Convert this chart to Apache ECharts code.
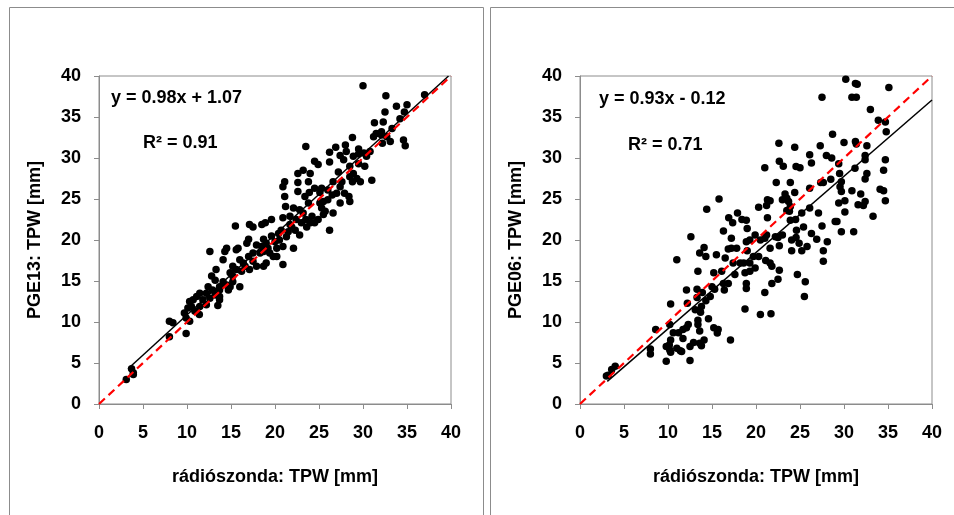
<!DOCTYPE html>
<html>
<head>
<meta charset="utf-8">
<script src="https://cdn.jsdelivr.net/npm/echarts@6/dist/echarts.min.js"></script>
<style>
html,body{margin:0;padding:0;background:#fff;}
#c{width:954px;height:515px;}
</style>
</head>
<body>
<div id="c"></div>
<script>
// ---- data ----
var axisTicks = [0, 5, 10, 15, 20, 25, 30, 35, 40];
var xAxisTitle = 'rádiószonda: TPW [mm]';
var leftYTitle = 'PGE13: TPW [mm]';
var rightYTitle = 'PGE06: TPW [mm]';
var leftEquation = 'y = 0.98x + 1.07';
var leftR2 = 'R² = 0.91';
var rightEquation = 'y = 0.93x - 0.12';
var rightR2 = 'R² = 0.71';

var pge13Points = [
[30,38.8],[37,37.7],[32.6,37.6],[33.8,36.3],[35,36.5],[34.7,35.6],[32.5,35.6],[32.3,34.4],[31.3,34.3],[33.3,33.6],
[34.2,34.8],[31.5,33],[32.1,32.8],[31.2,32.6],[32.2,31.8],[33.1,32],[34.6,32.2],[34.8,31.5],[28.8,32.5],[28,31.6],
[26.9,31.3],[23.5,31.4],[29.5,31.1],[29.5,30.5],[30.1,30.6],[30.8,30.8],[26.2,30.7],[27.4,30.3],[27.8,29.8],[26.2,29.5],
[24.5,29.6],[24.9,29.2],[23.2,28.5],[22.6,28.1],[24,28.1],[29.5,29.3],[30.2,29],[28.5,29],[27.2,28.3],[28.9,28.1],
[28.5,27.7],[29.3,27.5],[29.7,27.1],[31,27.3],[28.8,27.1],[27.6,27.1],[26.6,27.1],[21.1,27.1],[20.9,26.5],[22.6,27],
[23.8,27.1],[22.6,25.9],[23.4,25.3],[23.9,25.8],[24.5,26.3],[25.3,26.3],[25.1,25.8],[26,26.1],[26.5,25.5],[27.4,26.5],
[27.9,25.7],[28.4,25.3],[28.5,24.7],[27.4,24.5],[26.6,23.3],[21.1,25.3],[21.2,24.1],[22.1,23.9],[22.8,23.7],[23.2,23.3],
[22.4,22.5],[23.5,22.5],[24.2,22.9],[24.9,22.5],[24.5,22.1],[24,22.1],[25.1,24.5],[25.5,24.7],[25.3,23.9],[25.5,23.1],
[25.7,23.5],[20.9,22.7],[21.7,21.9],[22.3,21.2],[22.8,20.6],[26.2,21.2],[22.1,19],[20.9,19.2],[20.5,20],[21.3,20.4],
[20.9,17],[19.6,22.5],[18.9,22.1],[18.5,21.9],[17.5,21.6],[17.1,21.9],[15.5,21.7],[17,20.1],[17.9,19.4],[16.8,19.6],
[18.7,20.1],[19,19.6],[19.6,20.5],[20,19.8],[20.2,19],[19.2,19],[18.7,18.6],[19.4,18.4],[19.8,18],[20.2,18],
[19,17.2],[18.7,16.8],[17.5,17.4],[17.9,16.8],[16.6,16.8],[17.1,16.4],[15.8,19],[15.6,18.8],[14.5,19],[14.3,18.6],
[14.1,17.6],[13.3,16.4],[12.6,18.6],[16,17.6],[15.2,16.8],[16.2,16.2],[14.9,16],[15.2,15.6],[12.8,15.6],[13.2,15.1],
[14.1,14.9],[14.5,14.5],[14.9,14.3],[16,14.3],[13.7,14.3],[13.7,13.9],[12.9,13.9],[12.4,14.3],[12.2,13.5],[11.45,13.5],
[11.1,13.1],[10.7,12.7],[10.3,12.5],[11.8,12.7],[12.6,12.9],[13.7,13.1],[13.7,12.7],[12.2,12.1],[13.5,12],[10.5,11.9],
[10.1,11.7],[10.9,11.3],[9.7,11.1],[11.4,10.9],[9.9,10.5],[10.3,10.1],[8,10.1],[8.4,9.9],[9.9,8.6],[8,8.2],
[3.7,4.3],[3.9,3.6],[3.1,3],[3.9,3.8],[21.7,22.9],[23.8,24.5],
[20.4,20.8],[20.7,21.2],[21.5,21],[21.9,21.6],[23,22.1],[23.6,21.6],[18.3,18.4],[18.5,19.2],[17.5,18.4],[17,18],
[16.4,17.2],[15.6,16.4],[15.2,14.9],[14.7,13.9],[13.2,13.3],[11.45,11.9],[32.1,33.2],[32.7,32.6],[30.4,30.2],[28.9,30.2],
[28.1,30.8],[26,24.9],[27,25.7]
];

var pge06Points = [
[30.2,39.6],[31.3,39.1],[31.5,39],[35.1,38.6],[27.5,37.4],[30.9,37.4],[31.4,37.4],[33,35.9],[33.9,34.6],[34.7,34.4],
[34.8,33.2],[28.7,32.9],[22.6,31.8],[24.4,31.3],[27.3,31.5],[30,31.9],[31.3,32],[31.4,31.7],[32.6,31.5],[34.7,29.8],
[21,28.8],[22.65,29.6],[23.1,29],[24.55,28.95],[25,28.8],[26.1,30.4],[26.3,29.4],[28,30.3],[28.6,30],[29.4,29.3],
[32.4,30.3],[32.4,29.8],[31.25,28.75],[29.5,28.1],[32.6,28.1],[34.5,28.5],[32.4,27.45],[22.3,27],[23.9,27],[27.35,27],
[27.65,27],[29.7,27.1],[28.5,27.4],[26.1,26.3],[29.55,26.5],[29.7,25.9],[30.9,26],[34.1,26.2],[34.5,26],[31.9,25.6],
[23.3,25.6],[24.4,25.8],[23.5,25.1],[23,24.9],[23.7,24.7],[21.3,24.9],[21.6,24.8],[15.8,25],[14.4,23.75],[20.3,24],
[21.2,24.2],[30.1,24.8],[29.4,24.5],[31.6,24.3],[32.2,24.2],[32.4,24.7],[34.7,24.8],[26.1,23.9],[27.1,23.3],[25.2,23.3],
[23.9,24.1],[23.8,23.5],[23.5,23.6],[30.1,23.4],[33.3,22.9],[29,22.25],[29.2,22.25],[21.3,22.7],[23.9,22.4],[24.5,22.5],
[25.4,21.6],[27.5,21.7],[29.7,21],[31.1,21],[16.9,22.7],[17.35,22.1],[17.9,23.3],[18.4,22.5],[18.9,22.4],[16.3,21.1],
[19,21.4],[19.9,20.6],[19.3,20],[18.9,19.8],[20.5,20],[21,20.2],[21.2,20.6],[22.2,20.4],[22.5,20.3],[23,20.6],
[24.6,21.2],[24.55,20.3],[24.05,20],[24.9,19.6],[25.8,19.2],[26.9,20.1],[26.3,20.8],[28.1,19.8],[27.65,18.7],[27.65,17.4],
[22.65,19.3],[21.6,19],[25.2,18.7],[24.05,18.7],[17.2,20.2],[17.2,19],[16.85,18.9],[17.8,19],[19,18.7],[19.7,18],
[20.3,18],[21.1,17.5],[21.8,16.8],[21.6,17.2],[19.3,17.2],[18.6,17.2],[18.2,17.2],[17.4,17.2],[16.5,17.8],[15.5,18.2],
[14.3,18],[13.6,18.4],[14.1,19.1],[11,17.6],[19.9,16.6],[19.3,16.2],[18.75,16],[17.6,15.8],[16.1,16.2],[15.2,16],
[13.4,16.2],[24.7,15.8],[22.65,16.3],[22.5,15.2],[25.6,14.9],[21.8,14.7],[18.9,14.7],[18.9,14.1],[16.85,14.7],[16.3,14.7],
[15,14.3],[15.3,14],[16.4,13.9],[14.8,13.1],[21,13.6],[25.5,13.1],[18.75,11.6],[20.5,10.9],[21.7,11],[13.9,13.6],
[13.3,14],[12.1,13.9],[13.3,13],[12.6,20.4],[12.2,12.3],[10.3,12.2],[14.3,12.6],[13.8,11.9],[13.1,11.5],[13.7,11.2],
[14.6,10.4],[13.4,10.2],[10.2,9.7],[8.6,9.1],[13.4,9.7],[12.1,9.3],[12.3,9.7],[11.7,9.1],[11.2,8.7],[10.6,8.7],
[13.6,8.9],[15.2,9.3],[15.7,9.1],[15.6,8.65],[11.7,8],[10.3,7.8],[14.1,7.8],[17.1,7.8],[13.6,7.4],[12.9,7.5],
[12.5,7],[9.8,7],[10.2,6.6],[11,6.8],[11.4,6.5],[11.55,6.4],[10.3,6.3],[13.8,7.1],[8,6.7],[8,6.1],
[9.8,5.2],[12.5,5.3],[3.2,3.5],[3.6,4.2],[4,4.6],[3,3.4],[10.15,7.2]
];

// regression lines (endpoints as drawn) and 1:1 reference line
var pge13Trend = [[3.3, 4.3], [39.72, 40]];
var pge06Trend = [[3.1, 2.76], [40, 37.08]];
var oneToOne = [[0, 0], [40, 40]];

// ---- chart ----
var FONT = '"Liberation Sans", Arial, sans-serif';
var GREY = '#8c8c8c';
var chart = echarts.init(document.getElementById('c'), null, {renderer: 'canvas'});

function xAx(gi) {
  return {
    gridIndex: gi, type: 'value', min: 0, max: 40, interval: 5,
    name: xAxisTitle, nameLocation: 'middle', nameGap: 64,
    nameTextStyle: {fontFamily: FONT, fontWeight: 'bold', fontSize: 18, color: '#000'},
    axisLine: {show: true, onZero: false, lineStyle: {color: GREY, width: 1}},
    axisTick: {show: true, inside: false, length: 5, lineStyle: {color: GREY}},
    axisLabel: {fontFamily: FONT, fontWeight: 'bold', fontSize: 18, color: '#000', margin: 20},
    splitLine: {show: false}
  };
}
function yAx(gi, title) {
  return {
    gridIndex: gi, type: 'value', min: 0, max: 40, interval: 5,
    name: title, nameLocation: 'middle', nameGap: 55,
    nameTextStyle: {fontFamily: FONT, fontWeight: 'bold', fontSize: 18, color: '#000'},
    axisLine: {show: true, onZero: false, lineStyle: {color: GREY, width: 1}},
    axisTick: {show: true, inside: false, length: 5, lineStyle: {color: GREY}},
    axisLabel: {fontFamily: FONT, fontWeight: 'bold', fontSize: 18, color: '#000', margin: 18},
    splitLine: {show: false}
  };
}
function scatter(i, pts) {
  return {type: 'scatter', xAxisIndex: i, yAxisIndex: i, data: pts, symbol: 'circle', symbolSize: 7.5,
    itemStyle: {color: '#000', opacity: 1}, z: 2, silent: true, animation: false};
}
function line(i, pts, color, type, width, z) {
  return {type: 'line', xAxisIndex: i, yAxisIndex: i, data: pts, symbol: 'none', z: z,
    lineStyle: {color: color, type: type, width: width}, silent: true, animation: false,
    clip: true};
}
function txt(x, y, s) {
  return {type: 'text', left: x, top: y, z: 10,
    style: {text: s, font: 'bold 18px ' + FONT, fill: '#000'}};
}

chart.setOption({
  animation: false,
  backgroundColor: '#fff',
  grid: [
    {left: 99, top: 76, width: 352, height: 328, show: true, borderColor: GREY, borderWidth: 1, backgroundColor: 'transparent'},
    {left: 580, top: 76, width: 352, height: 328, show: true, borderColor: GREY, borderWidth: 1, backgroundColor: 'transparent'}
  ],
  xAxis: [xAx(0), xAx(1)],
  yAxis: [yAx(0, leftYTitle), yAx(1, rightYTitle)],
  series: [
    scatter(0, pge13Points),
    line(0, pge13Trend, '#000', 'solid', 1.5, 3),
    line(0, oneToOne, '#ff0000', [8, 5], 2.2, 4),
    scatter(1, pge06Points),
    line(1, pge06Trend, '#000', 'solid', 1.5, 3),
    line(1, oneToOne, '#ff0000', [8, 5], 2.2, 4)
  ],
  graphic: [
    {type: 'rect', shape: {x: 9.5, y: 7.5, width: 474, height: 520}, style: {fill: 'none', stroke: GREY, lineWidth: 1}, z: 0},
    {type: 'rect', shape: {x: 490.5, y: 7.5, width: 470, height: 520}, style: {fill: 'none', stroke: GREY, lineWidth: 1}, z: 0},
    txt(111, 89, leftEquation),
    txt(143, 134, leftR2),
    txt(599, 90, rightEquation),
    txt(628, 136, rightR2)
  ]
});
</script>
</body>
</html>
